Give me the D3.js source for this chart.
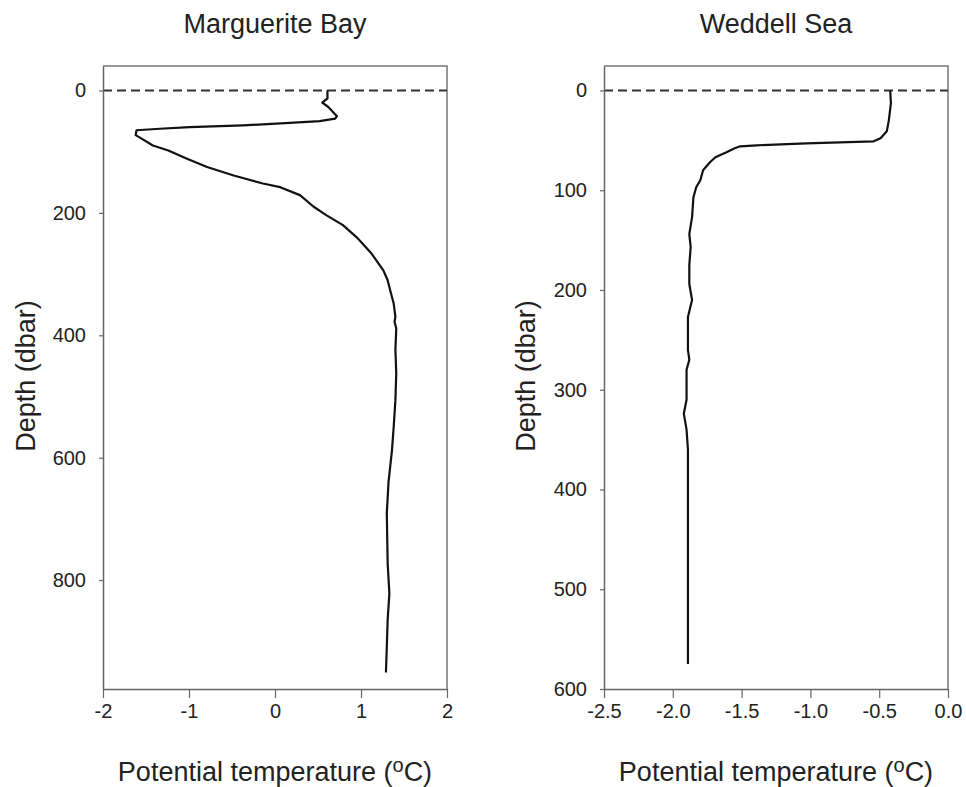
<!DOCTYPE html>
<html>
<head>
<meta charset="utf-8">
<script src="https://cdn.jsdelivr.net/npm/d3@7/dist/d3.min.js"></script>
<style>
  html, body { margin: 0; padding: 0; background: #fff; }
  svg { display: block; font-family: "Liberation Sans", Arial, sans-serif; }
</style>
</head>
<body>
<svg id="chart" width="966" height="787"></svg>
<script>
// ---- Data ----
const panelTitles = ["Marguerite Bay", "Weddell Sea"];

// Marguerite Bay profile
const mbDepth = [0, 13, 20, 27, 42, 46, 50, 53, 57, 60, 62.5, 65, 73, 77, 90, 98, 111, 125, 139, 152, 158, 171, 190, 204, 220, 240, 266, 278, 294, 310, 327, 348, 370, 378, 389, 424, 462, 506, 550, 588, 640, 691, 773, 822, 865, 909, 951];
const mbTemp  = [0.61, 0.61, 0.55, 0.62, 0.72, 0.70, 0.52, 0.17, -0.37, -0.99, -1.34, -1.61, -1.62, -1.57, -1.42, -1.24, -1.03, -0.79, -0.48, -0.14, 0.06, 0.29, 0.45, 0.60, 0.79, 0.95, 1.12, 1.18, 1.26, 1.31, 1.34, 1.38, 1.40, 1.39, 1.41, 1.40, 1.41, 1.40, 1.38, 1.36, 1.32, 1.30, 1.31, 1.33, 1.31, 1.30, 1.29];

// Weddell Sea profile
const wsDepth = [0, 13, 30, 41, 48, 51, 53, 55, 56, 58, 62, 67, 72, 80, 90, 97, 107, 127, 144, 157, 175, 194, 210, 227, 260, 270, 280, 310, 324, 340, 360, 410, 457, 575];
const wsTemp  = [-0.42, -0.415, -0.43, -0.445, -0.49, -0.54, -1.03, -1.39, -1.51, -1.55, -1.61, -1.69, -1.73, -1.78, -1.80, -1.83, -1.85, -1.86, -1.88, -1.87, -1.88, -1.88, -1.86, -1.89, -1.89, -1.88, -1.90, -1.90, -1.92, -1.90, -1.89, -1.89, -1.89, -1.89];

// Tick values
const mbDepthTicks = [0, 200, 400, 600, 800];
const mbTempTicks  = [-2, -1, 0, 1, 2];
const wsDepthTicks = [0, 100, 200, 300, 400, 500, 600];
const wsTempTicks  = [-2.5, -2.0, -1.5, -1.0, -0.5, 0.0];

const mbDepthDomain = [-40, 978];
const mbTempDomain  = [-2, 2];
const wsDepthDomain = [-24.5, 600];
const wsTempDomain  = [-2.5, 0];

// ---- Drawing ----
const svg = d3.select("#chart");
const plotTop = 66, plotBottom = 689;

function panel(opts) {
  const x = d3.scaleLinear().domain(opts.xDomain).range([opts.left, opts.right]);
  const y = d3.scaleLinear().domain(opts.yDomain).range([plotTop, plotBottom]);
  const g = svg.append("g");

  // frame (top & right)
  g.append("path")
    .attr("d", `M${opts.left},${plotTop}H${opts.right}V${plotBottom}`)
    .attr("fill", "none").attr("stroke", "#777").attr("stroke-width", 1.5);

  // dashed zero line
  g.append("line")
    .attr("x1", opts.left).attr("x2", opts.right)
    .attr("y1", y(0)).attr("y2", y(0))
    .attr("stroke", "#333").attr("stroke-width", 2)
    .attr("stroke-dasharray", "9,5");

  // profile
  const data = opts.depth.map((d, i) => ({ d, t: opts.temp[i] }));
  g.append("path")
    .datum(data)
    .attr("fill", "none").attr("stroke", "#111").attr("stroke-width", 2.2)
    .attr("stroke-linejoin", "round")
    .attr("d", d3.line().x(p => x(p.t)).y(p => y(p.d)));

  // axes
  const ya = g.append("g").attr("transform", `translate(${opts.left},0)`)
    .call(d3.axisLeft(y).tickValues(opts.yTicks).tickSize(4).tickPadding(13).tickSizeOuter(0)
      .tickFormat(d => String(d)));
  const xa = g.append("g").attr("transform", `translate(0,${plotBottom})`)
    .call(d3.axisBottom(x).tickValues(opts.xTicks).tickSize(9).tickPadding(6).tickSizeOuter(0)
      .tickFormat(opts.xFormat));
  [ya, xa].forEach(a => {
    a.select(".domain").attr("stroke", "#666").attr("stroke-width", 1.5);
    a.selectAll(".tick line").attr("stroke", "#666").attr("stroke-width", 1.2);
    a.selectAll(".tick text").attr("fill", "#222").style("font-size", "20px")
      .style("font-family", '"Liberation Sans", Arial, sans-serif');
  });

  // title
  g.append("text")
    .attr("x", (opts.left + opts.right) / 2).attr("y", 33)
    .attr("text-anchor", "middle").attr("fill", "#222")
    .style("font-size", "27px").text(opts.title);

  // y label
  g.append("text")
    .attr("transform", `translate(${opts.ylabX},376) rotate(-90)`)
    .attr("text-anchor", "middle").attr("fill", "#222")
    .style("font-size", "27px").text("Depth (dbar)");

  // x label
  const xl = g.append("text")
    .attr("x", (opts.left + opts.right) / 2).attr("y", 781)
    .attr("text-anchor", "middle").attr("fill", "#222")
    .style("font-size", "27px");
  xl.append("tspan").text("Potential temperature (");
  xl.append("tspan").attr("dy", -9).style("font-size", "20px").text("o");
  xl.append("tspan").attr("dy", 9).text("C)");
}

panel({
  left: 103, right: 447, xDomain: mbTempDomain, yDomain: mbDepthDomain,
  xTicks: mbTempTicks, yTicks: mbDepthTicks, xFormat: d => String(d),
  depth: mbDepth, temp: mbTemp, title: panelTitles[0], ylabX: 35
});
panel({
  left: 604, right: 948, xDomain: wsTempDomain, yDomain: wsDepthDomain,
  xTicks: wsTempTicks, yTicks: wsDepthTicks, xFormat: d => d.toFixed(1),
  depth: wsDepth, temp: wsTemp, title: panelTitles[1], ylabX: 535
});
</script>
</body>
</html>
